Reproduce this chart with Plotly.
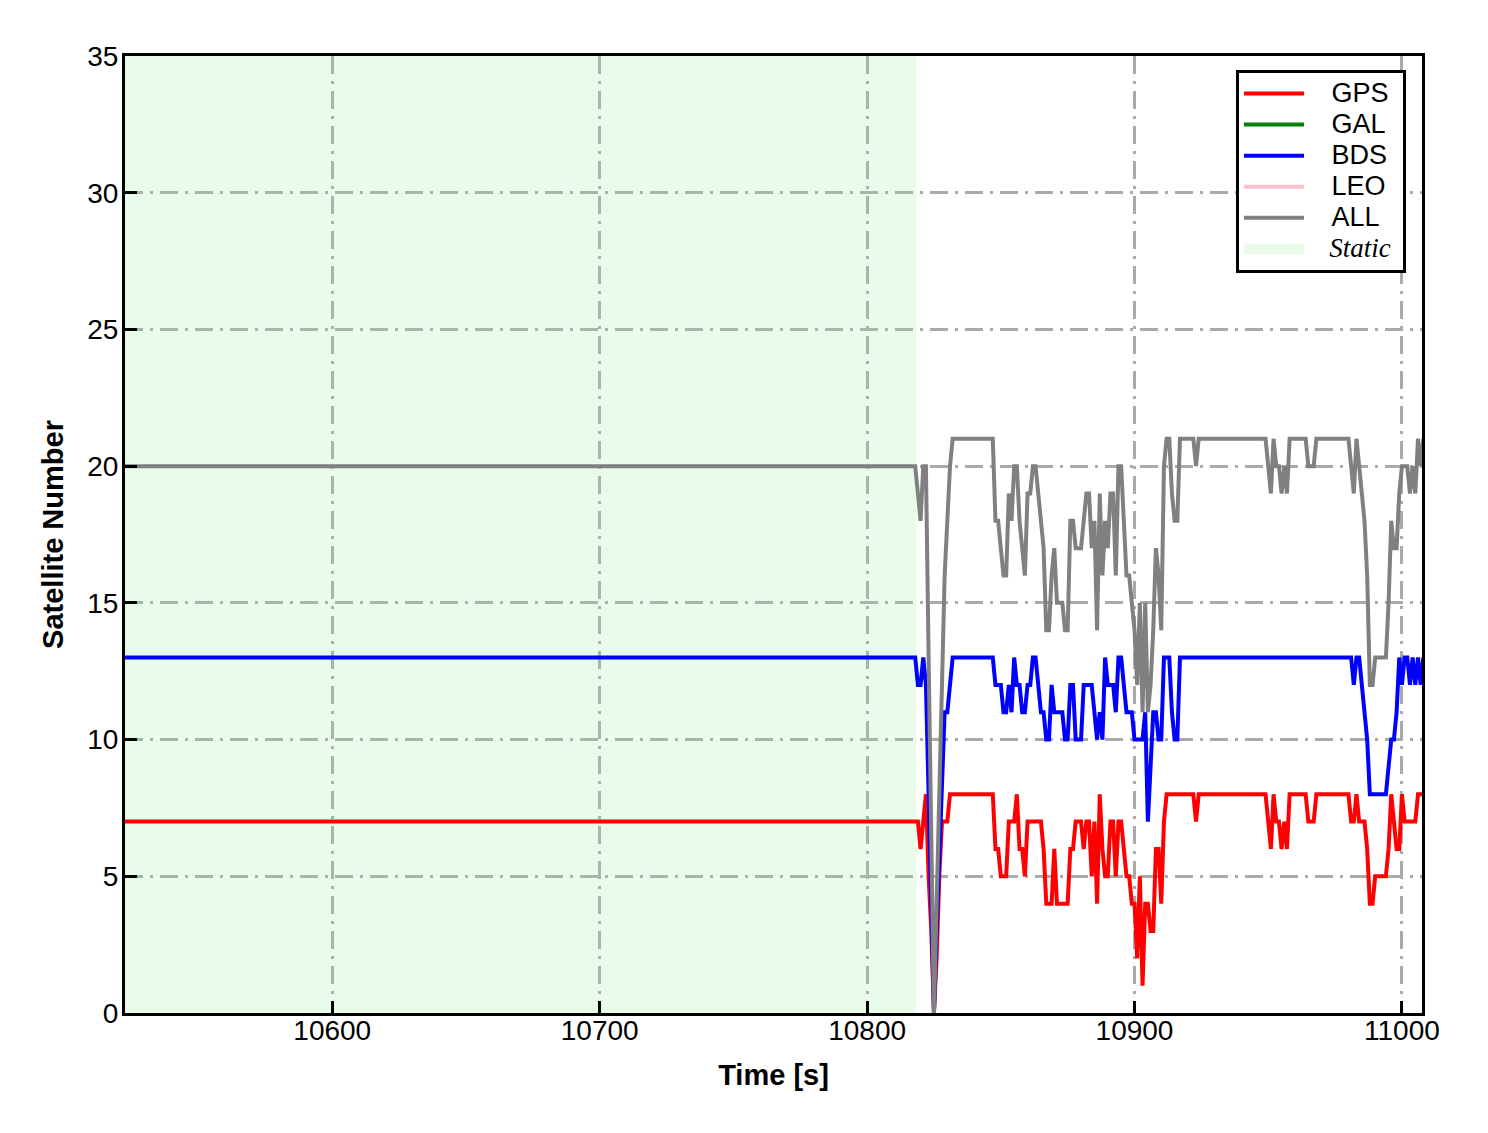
import plotly.graph_objects as go

# ---------------- data ----------------
# time grid: one point at the start of the static period, then 1 s epochs
time_s = [10520] + list(range(10818, 11009))

gps = [7,
       7, 7, 6, 7, 8, 5, 3, 0, 2, 5,
       7, 7, 7, 8, 8, 8, 8, 8, 8, 8,
       8, 8, 8, 8, 8, 8, 8, 8, 8, 8,
       6, 6, 5, 5, 5, 7, 7, 7, 8, 6,
       6, 5, 7, 7, 7, 7, 7, 7, 6, 4,
       4, 4, 6, 4, 4, 4, 4, 4, 6, 6,
       7, 7, 7, 6, 7, 7, 5, 7, 4, 8,
       6, 5, 5, 7, 7, 5, 7, 7, 6, 5,
       5, 4, 4, 2, 5, 1, 4, 4, 3, 3,
       6, 6, 4, 7, 8, 8, 8, 8, 8, 8,
       8, 8, 8, 8, 8, 7, 8, 8, 8, 8,
       8, 8, 8, 8, 8, 8, 8, 8, 8, 8,
       8, 8, 8, 8, 8, 8, 8, 8, 8, 8,
       8, 8, 7, 6, 8, 7, 7, 6, 7, 6,
       8, 8, 8, 8, 8, 8, 8, 7, 7, 7,
       8, 8, 8, 8, 8, 8, 8, 8, 8, 8,
       8, 8, 8, 7, 7, 8, 7, 7, 7, 6,
       4, 4, 5, 5, 5, 5, 5, 6, 8, 7,
       6, 6, 8, 7, 7, 7, 7, 7, 8, 8, 8]

bds = [13,
       13, 12, 12, 13, 12, 8, 4, 0, 3, 6,
       8, 11, 11, 12, 13, 13, 13, 13, 13, 13,
       13, 13, 13, 13, 13, 13, 13, 13, 13, 13,
       12, 12, 12, 11, 11, 12, 11, 13, 12, 12,
       11, 11, 12, 12, 13, 13, 12, 11, 11, 10,
       10, 12, 11, 11, 11, 11, 10, 10, 12, 12,
       10, 10, 10, 12, 12, 12, 12, 11, 10, 11,
       10, 13, 12, 12, 12, 11, 13, 13, 12, 11,
       11, 11, 10, 10, 10, 10, 11, 7, 9, 11,
       11, 10, 10, 13, 13, 13, 11, 10, 10, 13,
       13, 13, 13, 13, 13, 13, 13, 13, 13, 13,
       13, 13, 13, 13, 13, 13, 13, 13, 13, 13,
       13, 13, 13, 13, 13, 13, 13, 13, 13, 13,
       13, 13, 13, 13, 13, 13, 13, 13, 13, 13,
       13, 13, 13, 13, 13, 13, 13, 13, 13, 13,
       13, 13, 13, 13, 13, 13, 13, 13, 13, 13,
       13, 13, 13, 13, 12, 13, 13, 12, 11, 10,
       8, 8, 8, 8, 8, 8, 8, 9, 10, 10,
       11, 13, 12, 13, 13, 12, 13, 12, 13, 12, 13]

all_sats = [20,
            20, 19, 18, 20, 20, 13, 7, 0, 4, 8,
            12, 16, 18, 20, 21, 21, 21, 21, 21, 21,
            21, 21, 21, 21, 21, 21, 21, 21, 21, 21,
            18, 18, 17, 16, 16, 19, 18, 20, 20, 18,
            17, 16, 19, 19, 20, 20, 19, 18, 17, 14,
            14, 16, 17, 15, 15, 15, 14, 14, 18, 18,
            17, 17, 17, 18, 19, 19, 17, 18, 14, 19,
            16, 18, 17, 19, 19, 16, 20, 20, 18, 16,
            16, 15, 14, 12, 15, 11, 15, 11, 12, 14,
            17, 16, 14, 20, 21, 21, 19, 18, 18, 21,
            21, 21, 21, 21, 21, 20, 21, 21, 21, 21,
            21, 21, 21, 21, 21, 21, 21, 21, 21, 21,
            21, 21, 21, 21, 21, 21, 21, 21, 21, 21,
            21, 21, 20, 19, 21, 20, 20, 19, 20, 19,
            21, 21, 21, 21, 21, 21, 21, 20, 20, 20,
            21, 21, 21, 21, 21, 21, 21, 21, 21, 21,
            21, 21, 21, 20, 19, 21, 20, 19, 18, 16,
            12, 12, 13, 13, 13, 13, 13, 15, 18, 17,
            17, 19, 20, 20, 20, 19, 20, 19, 21, 20, 21]

# GAL and LEO contribute nothing visible in this window (legend entries only)
gal = [None]
leo = [None]

series_names = ["GPS", "GAL", "BDS", "LEO", "ALL"]
series_colors = ["#ff0000", "#008000", "#0000ff", "#ffc0cb", "#808080"]

static_start = 10520
static_end = 10818.4
static_color = "rgba(144,238,144,0.2)"

x_range = [10522.5, 11007.5]
y_range = [0, 35]
x_ticks = [10600, 10700, 10800, 10900, 11000]
y_ticks = [0, 5, 10, 15, 20, 25, 30, 35]

# ---------------- figure ----------------
FONT = "Liberation Sans, Arial, sans-serif"
PAD = "\u00a0\u00a0\u00a0"


def legend_label(text, serif_italic=False):
    if serif_italic:
        return ('<span style="font-size:27px;font-family:Liberation Serif, '
                f'Times New Roman, serif">{PAD}<i>{text}</i>\u00a0</span>')
    return f'<span style="font-size:27px">{PAD}{text}\u00a0</span>'


fig = go.Figure()

# static period band (drawn first, underneath the series)
fig.add_trace(go.Scatter(
    x=[static_start, static_end, static_end, static_start, static_start],
    y=[y_range[0], y_range[0], y_range[1], y_range[1], y_range[0]],
    fill="toself", fillcolor=static_color,
    mode="lines", line=dict(width=0, color=static_color),
    showlegend=False, hoverinfo="skip"))

series_values = [gps, gal, bds, leo, all_sats]
for name, color, vals in zip(series_names, series_colors, series_values):
    xs = time_s[:len(vals)] if vals != [None] else [None]
    fig.add_trace(go.Scatter(
        x=xs, y=vals, mode="lines", name=legend_label(name),
        line=dict(color=color, width=4), legendrank=1000))

# legend entry for the static band
fig.add_trace(go.Scatter(
    x=[None], y=[None], mode="lines",
    line=dict(color=static_color, width=19),
    name=legend_label("Static", serif_italic=True), legendrank=2000))

axis_common = dict(
    showline=True, linewidth=3, linecolor="black", mirror=True,
    ticks="inside", ticklen=12, tickwidth=3, tickcolor="black",
    showgrid=True, gridcolor="#aaaaaa", gridwidth=2.5,
    griddash="18px,7px,3px,7px", zeroline=False,
    tickfont=dict(family=FONT, size=28, color="black"),
    tickformat="d",
)

fig.update_xaxes(range=x_range, tickvals=x_ticks, **axis_common,
                 ticklabelstandoff=-10,
                 title=dict(text="<b>Time [s]</b>", standoff=21,
                            font=dict(family=FONT, size=29, color="black")))
fig.update_yaxes(range=y_range, tickvals=y_ticks, **axis_common,
                 ticklabelstandoff=-2,
                 title=dict(text="<b>Satellite Number</b>", standoff=16,
                            font=dict(family=FONT, size=29, color="black")))

fig.update_layout(
    width=1472, height=1117,
    margin=dict(l=117, r=58, t=48, b=112, autoexpand=False),
    paper_bgcolor="white", plot_bgcolor="white",
    font=dict(family=FONT, size=27, color="black"),
    showlegend=True,
    legend=dict(x=0.8566, y=0.9854, xanchor="left", yanchor="top",
                bgcolor="white", bordercolor="black", borderwidth=3,
                font=dict(family=FONT, size=21.6, color="black"),
                itemwidth=60, tracegroupgap=0),
)

fig.write_html("out.html")
